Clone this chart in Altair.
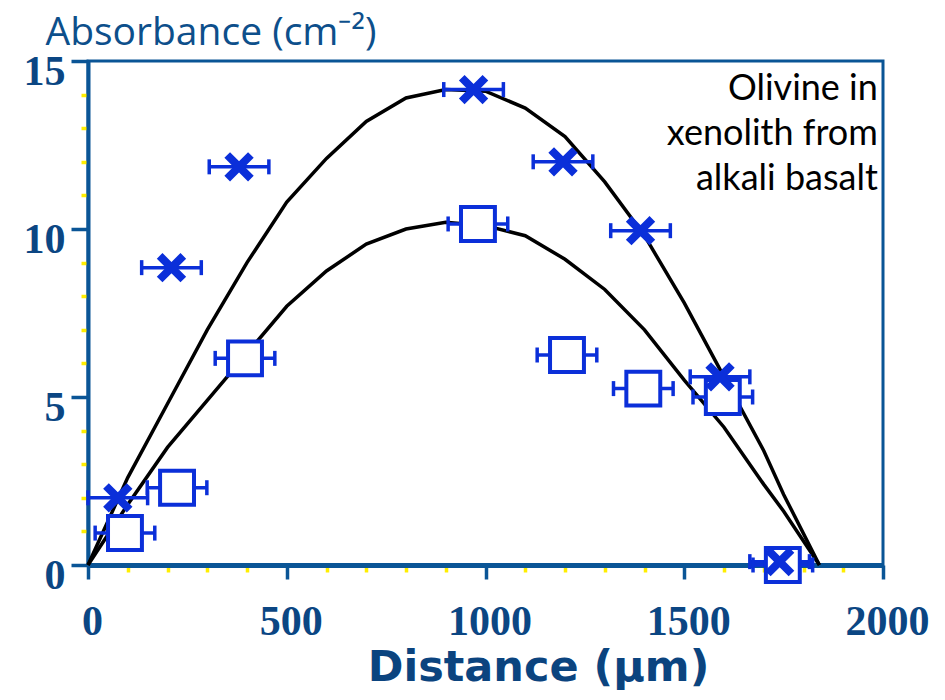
import altair as alt
import pandas as pd

# ---- data ----
# X markers (series 1)
dist_x = [75, 210, 380, 970, 1195, 1390, 1590, 1740]
abs_x = [2.0, 8.85, 11.85, 14.15, 12.0, 9.95, 5.6, 0.1]
err_x = [75, 75, 75, 75, 75, 75, 75, 75]

# open squares (series 2)
dist_sq = [93, 224, 395, 981, 1205, 1397, 1597, 1748]
abs_sq = [0.95, 2.3, 6.15, 10.15, 6.25, 5.25, 5.0, 0.0]
err_sq = [75, 75, 75, 75, 75, 75, 75, 75]

# model curves
curve_x = [0, 100, 200, 300, 400, 500, 600, 700, 800, 900, 1000, 1100,
           1200, 1300, 1400, 1500, 1600, 1700, 1750, 1840]
curve_upper = [0, 2.6, 4.8, 7.0, 9.0, 10.8, 12.1, 13.2, 13.9, 14.15, 14.1,
               13.6, 12.75, 11.4, 9.8, 7.8, 5.6, 3.4, 2.1, 0]
curve_lower = [0, 1.8, 3.5, 4.9, 6.3, 7.7, 8.75, 9.55, 10.0, 10.2, 10.1,
               9.8, 9.1, 8.2, 7.0, 5.5, 4.1, 2.4, 1.6, 0]

x_ticks = list(range(0, 2001, 100))
y_ticks = list(range(0, 16, 1))

note_text = "Olivine in\nxenolith from\nalkali basalt"
note_x = [1987]
note_y = [13.85]

AXIS = "#0a5596"
LABEL = "#0b4683"
BLUE = "#0b2fd9"
YELLOW = "#ffee00"

pts_x = pd.DataFrame({"d": dist_x, "a": abs_x, "lo": [d - e for d, e in zip(dist_x, err_x)],
                      "hi": [d + e for d, e in zip(dist_x, err_x)]})
pts_sq = pd.DataFrame({"d": dist_sq, "a": abs_sq, "lo": [d - e for d, e in zip(dist_sq, err_sq)],
                       "hi": [d + e for d, e in zip(dist_sq, err_sq)]})
curves = pd.DataFrame({
    "d": curve_x + curve_x,
    "a": curve_upper + curve_lower,
    "c": ["upper"] * len(curve_x) + ["lower"] * len(curve_x),
})
errs = pd.concat([pts_x, pts_sq], ignore_index=True)

xscale = alt.Scale(domain=[0, 2000], nice=False, zero=False)
yscale = alt.Scale(domain=[0, 15], nice=False, zero=False)

xaxis = alt.Axis(
    values=x_ticks,
    labelExpr="datum.value % 500 === 0 ? datum.label : ''",
    format="d", labelOverlap=False, labelBound=False, labelFlush=False,
    tickColor={"condition": {"test": "datum.value % 500 === 0", "value": AXIS}, "value": YELLOW},
    tickSize={"condition": {"test": "datum.value % 500 === 0", "value": 14}, "value": 7},
    tickWidth=3.5,
    labelFont="Liberation Serif", labelFontWeight="bold", labelFontSize=42,
    labelColor=LABEL, labelPadding=22, labelOffset=4,
    title="Distance (μm)", titleFont="DejaVu Sans", titleFontWeight="bold",
    titleFontSize=43, titleColor="#0b447f", titleX=450, titleY=115,
    titleAlign="center", titleBaseline="alphabetic", titleAnchor="start",
    domainColor=AXIS, domainWidth=5, grid=False,
)
yaxis = alt.Axis(
    values=y_ticks,
    labelExpr="datum.value % 5 === 0 ? datum.label : ''",
    labelOverlap=False, labelBound=False, labelFlush=False,
    tickColor={"condition": {"test": "datum.value % 5 === 0", "value": AXIS}, "value": YELLOW},
    tickSize={"condition": {"test": "datum.value % 5 === 0", "value": 17}, "value": 7},
    tickWidth=3.5,
    labelFont="Liberation Serif", labelFontWeight="bold", labelFontSize=42,
    labelColor=LABEL, labelPadding=6, labelOffset=10,
    title="Absorbance (cm⁻²)", titleFont="Open Sans", titleFontWeight="normal",
    titleFontSize=39, titleColor="#0d4f8b", titleAngle=0, titleX=-43, titleY=-17,
    titleAlign="left", titleBaseline="alphabetic", titleAnchor="start",
    domainColor=AXIS, domainWidth=4, grid=False,
)

lines = alt.Chart(curves).mark_line(color="black", strokeWidth=3.5).encode(
    x=alt.X("d:Q", scale=xscale, axis=xaxis),
    y=alt.Y("a:Q", scale=yscale, axis=yaxis),
    detail="c:N",
)

bars = alt.Chart(errs).mark_rule(color=BLUE, strokeWidth=3.5).encode(
    x=alt.X("lo:Q", axis=xaxis), x2="hi:Q", y=alt.Y("a:Q", axis=yaxis)
)
caps_lo = alt.Chart(errs).mark_tick(color=BLUE, orient="vertical", thickness=3.5, size=15,
                                    opacity=1).encode(x=alt.X("lo:Q", axis=xaxis),
                                                      y=alt.Y("a:Q", axis=yaxis))
caps_hi = alt.Chart(errs).mark_tick(color=BLUE, orient="vertical", thickness=3.5, size=15,
                                    opacity=1).encode(x=alt.X("hi:Q", axis=xaxis),
                                                      y=alt.Y("a:Q", axis=yaxis))

squares = alt.Chart(pts_sq).mark_point(
    shape="square", filled=True, fill="white", stroke=BLUE, strokeWidth=4,
    size=1150, opacity=1, fillOpacity=1,
).encode(x=alt.X("d:Q", axis=xaxis), y=alt.Y("a:Q", axis=yaxis))

crosses = alt.Chart(pts_x).mark_point(
    shape="M-1,-1L1,1M-1,1L1,-1", filled=False, stroke=BLUE, strokeWidth=8,
    size=560, opacity=1,
).encode(x=alt.X("d:Q", axis=xaxis), y=alt.Y("a:Q", axis=yaxis))

note = alt.Chart(pd.DataFrame({"d": note_x, "a": note_y, "t": [note_text]})).mark_text(
    align="right", baseline="alphabetic", font="Lato", fontSize=36, lineHeight=45,
    lineBreak="\n", color="black",
).encode(x=alt.X("d:Q", axis=xaxis), y=alt.Y("a:Q", axis=yaxis), text="t:N")

chart = alt.layer(lines, bars, caps_lo, caps_hi, squares, crosses, note).properties(
    width=795, height=504,
    autosize=alt.AutoSizeParams(type="none"),
    padding={"left": 80, "top": 53, "right": 50, "bottom": 134},
).configure_view(stroke=AXIS, strokeWidth=3).configure_axis(labelOverlap=False)

chart.save("out.html", embed_options={"renderer": "svg", "actions": False})
